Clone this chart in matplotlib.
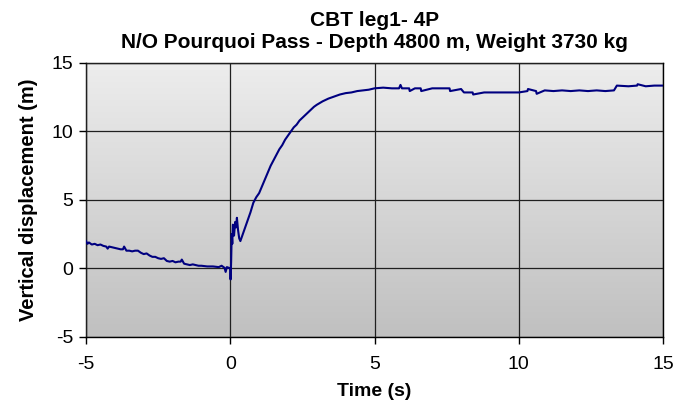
import numpy as np
import matplotlib.pyplot as plt
from matplotlib.colors import LinearSegmentedColormap

plt.rcParams['font.family'] = ['Liberation Sans', 'DejaVu Sans']
plt.rcParams['axes.unicode_minus'] = False

# time (s) and vertical displacement (m) of the CBT
time_s = [
    -5.00, -4.95, -4.90, -4.80, -4.70, -4.60, -4.50, -4.40, -4.30, -4.25,
    -4.20, -4.10, -4.00, -3.90, -3.80, -3.72, -3.68, -3.60, -3.50, -3.40,
    -3.30, -3.20, -3.10, -3.00, -2.90, -2.80, -2.70, -2.60, -2.50, -2.40,
    -2.30, -2.20, -2.10, -2.00, -1.90, -1.80, -1.72, -1.68, -1.60, -1.50,
    -1.40, -1.30, -1.20, -1.10, -1.00, -0.80, -0.60, -0.40, -0.30, -0.20,
    -0.16, -0.12, -0.05, 0.00, 0.01, 0.03, 0.05, 0.07, 0.09, 0.11,
    0.13, 0.17, 0.20, 0.23, 0.27, 0.31, 0.35, 0.40, 0.50, 0.60,
    0.70, 0.80, 0.90, 1.00, 1.10, 1.20, 1.30, 1.40, 1.50, 1.60,
    1.70, 1.80, 1.90, 2.00, 2.10, 2.20, 2.30, 2.40, 2.50, 2.60,
    2.70, 2.80, 2.90, 3.00, 3.20, 3.40, 3.60, 3.80, 4.00, 4.20,
    4.40, 4.60, 4.80, 5.00, 5.30, 5.60, 5.85, 5.90, 5.95, 6.20,
    6.22, 6.40, 6.60, 6.62, 7.00, 7.40, 7.60, 7.62, 8.00, 8.10,
    8.40, 8.42, 8.80, 9.20, 9.60, 10.00, 10.30, 10.32, 10.60, 10.62,
    10.90, 11.20, 11.50, 11.80, 12.10, 12.40, 12.70, 13.00, 13.30, 13.40,
    13.80, 14.10, 14.12, 14.40, 14.70, 15.00,
]
disp_m = [
    2.00, 1.80, 1.90, 1.75, 1.80, 1.70, 1.75, 1.65, 1.60, 1.45,
    1.60, 1.55, 1.50, 1.45, 1.40, 1.40, 1.60, 1.30, 1.30, 1.25,
    1.30, 1.30, 1.15, 1.05, 1.10, 0.95, 0.85, 0.85, 0.75, 0.70,
    0.75, 0.55, 0.50, 0.55, 0.45, 0.50, 0.50, 0.65, 0.35, 0.30,
    0.25, 0.30, 0.25, 0.20, 0.20, 0.15, 0.15, 0.10, 0.20, 0.05,
    -0.25, 0.10, 0.05, 0.00, -0.80, 0.50, 2.50, 1.80, 3.20, 3.10,
    2.40, 3.40, 3.00, 3.70, 2.80, 2.20, 2.00, 2.30, 2.90, 3.50,
    4.10, 4.80, 5.20, 5.50, 6.00, 6.50, 7.00, 7.50, 7.90, 8.30,
    8.70, 9.00, 9.40, 9.70, 10.00, 10.30, 10.50, 10.80, 11.00, 11.20,
    11.40, 11.60, 11.80, 11.95, 12.20, 12.40, 12.55, 12.70, 12.80, 12.85,
    12.95, 13.00, 13.05, 13.15, 13.20, 13.15, 13.15, 13.40, 13.15, 13.15,
    12.95, 13.15, 13.15, 12.95, 13.15, 13.15, 13.15, 12.95, 13.10, 12.85,
    12.85, 12.70, 12.85, 12.85, 12.85, 12.85, 12.95, 13.10, 12.95, 12.75,
    13.00, 12.95, 13.00, 12.95, 13.00, 12.95, 13.00, 12.95, 13.00, 13.35,
    13.30, 13.35, 13.45, 13.30, 13.35, 13.35,
]

x_ticks = [-5, 0, 5, 10, 15]
y_ticks = [-5, 0, 5, 10, 15]


def main():
    fig = plt.figure(figsize=(6.86, 4.03), dpi=100)
    ax = fig.add_axes([0.1254, 0.1638, 0.8411, 0.6799])

    # grey vertical gradient for the plot area (light at top)
    greys = LinearSegmentedColormap.from_list('greys', ['#c0c0c0', '#ededed'])
    grad = np.linspace(1, 0, 256).reshape(-1, 1)
    ax.imshow(grad, extent=[-5, 15, -5, 15], aspect='auto', cmap=greys,
              vmin=0, vmax=1, zorder=0, interpolation='bilinear')

    ax.set_xlim(-5, 15)
    ax.set_ylim(-5, 15)
    ax.set_xticks(x_ticks)
    ax.set_yticks(y_ticks)
    ax.grid(True, color='#202020', linewidth=0.9, zorder=1)
    ax.set_axisbelow(False)

    ax.plot(time_s, disp_m, color='#000080', linewidth=1.5, zorder=3)

    for s in ax.spines.values():
        s.set_color('black')
        s.set_linewidth(1.0)
    ax.tick_params(direction='out', length=5, width=1, labelsize=14)
    ax.tick_params(axis='x', pad=9)
    ax.tick_params(axis='y', pad=4)

    ax.set_xlabel('Time (s)', fontsize=14, fontweight='bold', labelpad=7)
    ax.set_ylabel('Vertical displacement (m)', fontsize=14.5, fontweight='bold', labelpad=10)
    ax.set_title('CBT leg1- 4P\nN/O Pourquoi Pass - Depth 4800 m, Weight 3730 kg',
                 fontsize=15, fontweight='bold', pad=11, linespacing=1.15)

    fig.savefig('out.png', dpi=100, facecolor='white')


if __name__ == "__main__":
    main()
